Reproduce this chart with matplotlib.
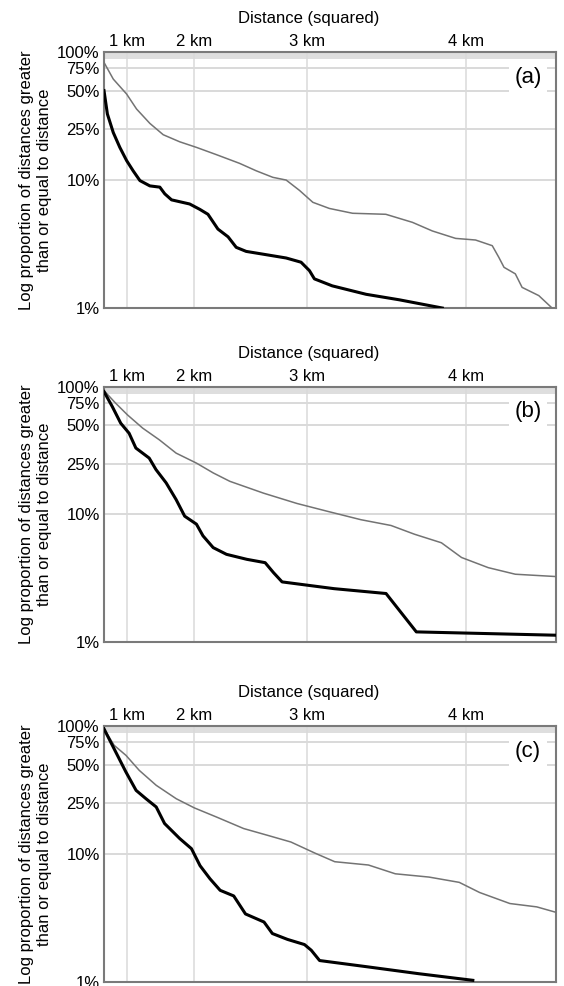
import numpy as np
import matplotlib.pyplot as plt

plt.rcParams['font.family'] = ['Liberation Sans', 'DejaVu Sans']

km_ticks = [1, 2, 3, 4]
km_labels = ['1 km', '2 km', '3 km', '4 km']
pct_ticks = [1, 10, 25, 50, 75, 100]
pct_labels = ['1%', '10%', '25%', '50%', '75%', '100%']
panel_labels = ['(a)', '(b)', '(c)']

# x = distance squared (km^2), y = percent of distances >= x
a_gray_x = [0, 0.41, 1.0, 1.44, 2.03, 2.62, 3.35, 4.09, 4.97, 6.0, 6.74, 7.47, 8.06,
            8.65, 9.24, 9.97, 11.0, 12.47, 13.65, 14.53, 15.56, 16.44, 17.18, 17.47,
            17.7, 18.2, 18.5, 19.24, 19.8]
a_gray_y = [83, 61.5, 47, 35.9, 27.7, 22.6, 19.9, 18, 15.8, 13.5, 11.8, 10.5, 10,
            8.3, 6.7, 6.0, 5.5, 5.4, 4.67, 4.0, 3.5, 3.4, 3.07, 2.49,
            2.08, 1.85, 1.45, 1.25, 1.01]
a_black_x = [0, 0.15, 0.41, 0.7, 1.0, 1.29, 1.59, 2.03, 2.47, 2.69, 2.99, 3.79, 4.24,
             4.6, 5.04, 5.49, 5.85, 6.29, 7.18, 8.06, 8.72, 9.09, 9.31, 10.1, 11.6,
             13.06, 14.97]
a_black_y = [50, 32.8, 23.5, 18, 14.2, 11.8, 9.9, 9.0, 8.8, 7.8, 7.0, 6.5, 5.9,
             5.4, 4.14, 3.6, 2.98, 2.77, 2.61, 2.46, 2.28, 1.96, 1.69, 1.49, 1.28,
             1.16, 1.0]

b_gray_x = [0, 0.52, 1.04, 1.71, 2.45, 3.19, 4.09, 4.83, 5.57, 7.06, 8.54, 9.88,
            11.37, 12.7, 13.74, 14.93, 15.82, 17.0, 18.2, 20.0]
b_gray_y = [93.6, 74.5, 60.4, 47.6, 38.5, 30.3, 25.3, 21.2, 18.2, 14.7, 12.2, 10.6,
            9.1, 8.2, 7.0, 6.0, 4.6, 3.83, 3.4, 3.26]
b_black_x = [0, 0.37, 0.74, 1.11, 1.41, 2.0, 2.3, 2.75, 3.19, 3.57, 4.09, 4.38, 4.83,
             5.42, 6.32, 7.13, 7.5, 7.88, 8.99, 10.18, 12.48, 13.82, 20.0]
b_black_y = [92, 70, 52, 43.4, 33.2, 27.7, 22.5, 17.7, 13.1, 9.7, 8.4, 6.8, 5.5,
             4.87, 4.45, 4.19, 3.5, 2.96, 2.79, 2.62, 2.4, 1.2, 1.13]

c_gray_x = [0, 0.45, 0.97, 1.56, 2.31, 3.2, 4.0, 4.99, 6.18, 7.23, 8.27, 9.31,
            10.21, 11.7, 12.89, 14.38, 15.72, 16.62, 17.96, 19.15, 20.0]
c_gray_y = [95, 70.6, 59, 45, 34.4, 27, 22.9, 19.4, 15.8, 14, 12.4, 10.2,
            8.7, 8.2, 7.0, 6.6, 6.0, 5.0, 4.1, 3.86, 3.5]
c_black_x = [0, 0.52, 0.97, 1.42, 1.86, 2.31, 2.68, 3.35, 3.87, 4.25, 4.69, 5.14,
             5.74, 6.26, 7.08, 7.45, 8.12, 8.87, 9.17, 9.54, 11.7, 13.93, 16.32]
c_black_y = [95, 62.6, 43.7, 31.4, 27, 23.3, 17.3, 13.2, 11, 8.1, 6.4, 5.2,
             4.7, 3.4, 2.94, 2.39, 2.15, 1.96, 1.77, 1.47, 1.31, 1.16, 1.03]

series = [(a_gray_x, a_gray_y, a_black_x, a_black_y),
          (b_gray_x, b_gray_y, b_black_x, b_black_y),
          (c_gray_x, c_gray_y, c_black_x, c_black_y)]

fig = plt.figure(figsize=(5.64, 9.86), dpi=100)

# axes boxes in figure fractions (left, bottom, width, height)
boxes = [(0.1844, 0.6876, 0.8014, 0.2596),
         (0.1844, 0.3489, 0.8014, 0.2586),
         (0.1844, 0.0041, 0.8014, 0.2596)]

grid_col = '#cfcfcf'
for box, (gx, gy, bx, by), lab in zip(boxes, series, panel_labels):
    ax = fig.add_axes(box)
    ax.set_yscale('log')
    ax.set_xlim(0, 20)
    ax.set_ylim(1, 100)

    # grid
    ax.axhspan(88, 100, color='#dedede', lw=0, zorder=0)
    for p in pct_ticks[1:-1]:
        ax.axhline(p, color=grid_col, lw=1.1, zorder=1)
    for k in km_ticks:
        ax.axvline(k ** 2, color='#dadada', lw=1.1, zorder=1)

    ax.plot(gx, gy, color='#737373', lw=1.1, zorder=3)
    ax.plot(bx, by, color='black', lw=2.2, zorder=4, solid_joinstyle='round')

    ax.set_yticks(pct_ticks)
    ax.set_yticklabels(pct_labels)
    ax.yaxis.set_minor_locator(plt.NullLocator())
    ax.set_xticks([k ** 2 for k in km_ticks])
    ax.set_xticklabels(km_labels)
    ax.xaxis.tick_top()
    ax.tick_params(axis='both', length=0, labelsize=12)
    ax.tick_params(axis='y', pad=3)
    ax.tick_params(axis='x', pad=2)

    for s in ax.spines.values():
        s.set_color('#7a7a7a')
        s.set_linewidth(1.5)

    ax.text(0.4535, 1.13, 'Distance (squared)', transform=ax.transAxes,
            ha='center', va='center', fontsize=12)
    ax.text(0.938, 0.902, lab, transform=ax.transAxes, ha='center', va='center',
            fontsize=16, zorder=5,
            bbox=dict(boxstyle='square,pad=0.25', fc='white', ec='none'))

    cy = box[1] + box[3] / 2
    fig.text(36 / 564, cy, 'Log proportion of distances greater\nthan or equal to distance',
             rotation=90, ha='center', va='center', multialignment='center',
             fontsize=12, linespacing=1.25)

fig.savefig('out.png', dpi=100)
